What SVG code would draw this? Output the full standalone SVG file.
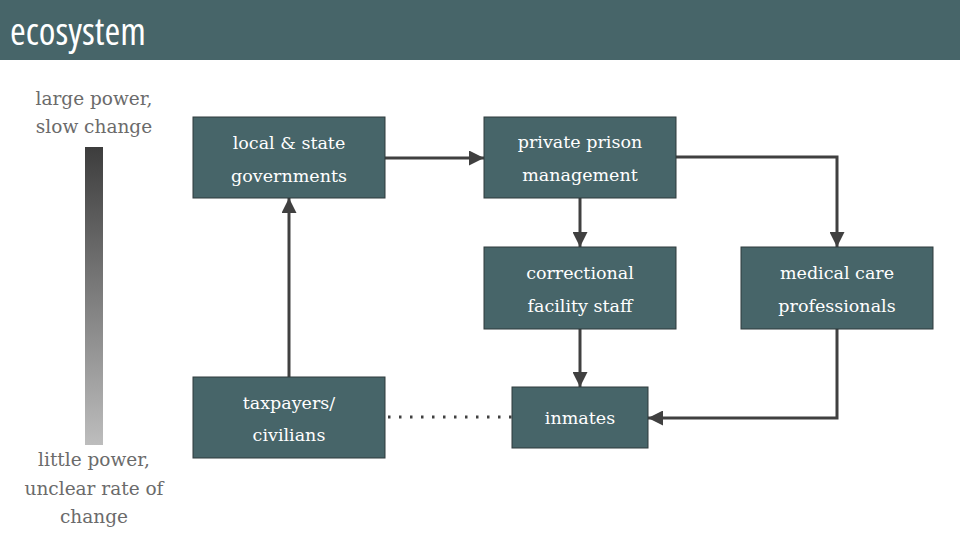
<svg xmlns="http://www.w3.org/2000/svg" width="960" height="540" viewBox="0 0 960 540">
<style>
.node rect{fill:#476569;stroke:#2f3b3d;stroke-width:1}
.node text{fill:#ffffff;font-family:"DejaVu Serif",serif;font-size:17.5px;text-anchor:middle}
.lbl{fill:#6b6b6b;font-family:"DejaVu Serif",serif;font-size:18.5px;text-anchor:middle}
.conn{fill:none;stroke:#404040;stroke-width:3}
</style>
<defs>
<linearGradient id="g" x1="0" y1="0" x2="0" y2="1">
<stop offset="0" stop-color="#3d3d3d"/>
<stop offset="1" stop-color="#bdbdbd"/>
</linearGradient>
<marker id="ah" viewBox="0 0 10 10" refX="10" refY="5" markerWidth="5" markerHeight="5" markerUnits="strokeWidth" orient="auto">
<path d="M0,0 L10,5 L0,10 z" fill="#404040"/>
</marker>
</defs>
<rect x="0" y="0" width="960" height="60" fill="#476569"/>
<text x="10" y="45" fill="#ffffff" font-family="Open Sans, sans-serif" font-size="38" style="font-stretch:condensed">ecosystem</text>
<text class="lbl" x="94" y="105">large power,</text>
<text class="lbl" x="94" y="133">slow change</text>
<rect x="85" y="147" width="18" height="298" fill="url(#g)"/>
<text class="lbl" x="94" y="466">little power,</text>
<text class="lbl" x="94" y="495">unclear rate of</text>
<text class="lbl" x="94" y="523">change</text>
<g id="connectors">
<path class="conn" d="M385,158 L484,158" marker-end="url(#ah)"/>
<path class="conn" d="M676,157 L837,157 L837,247" marker-end="url(#ah)"/>
<path class="conn" d="M580,198 L580,247" marker-end="url(#ah)"/>
<path class="conn" d="M580,329 L580,387" marker-end="url(#ah)"/>
<path class="conn" d="M837,329 L837,418 L648,418" marker-end="url(#ah)"/>
<path class="conn" d="M289,377 L289,198" marker-end="url(#ah)"/>
<path d="M388,417 L512,417" fill="none" stroke="#404040" stroke-width="3" stroke-dasharray="2.5,8.5"/>
</g>
<g id="n-local" class="node"><rect x="193" y="117" width="192" height="81"/><text x="289" y="149">local &amp; state</text><text x="289" y="182">governments</text></g>
<g id="n-private" class="node"><rect x="484" y="117" width="192" height="81"/><text x="580" y="148">private prison</text><text x="580" y="181">management</text></g>
<g id="n-correctional" class="node"><rect x="484" y="247" width="192" height="82"/><text x="580" y="279">correctional</text><text x="580" y="312">facility staff</text></g>
<g id="n-medical" class="node"><rect x="741" y="247" width="192" height="82"/><text x="837" y="279">medical care</text><text x="837" y="312">professionals</text></g>
<g id="n-taxpayers" class="node"><rect x="193" y="377" width="192" height="81"/><text x="289" y="409">taxpayers/</text><text x="289" y="441">civilians</text></g>
<g id="n-inmates" class="node"><rect x="512" y="387" width="136" height="61"/><text x="580" y="424">inmates</text></g>
</svg>
